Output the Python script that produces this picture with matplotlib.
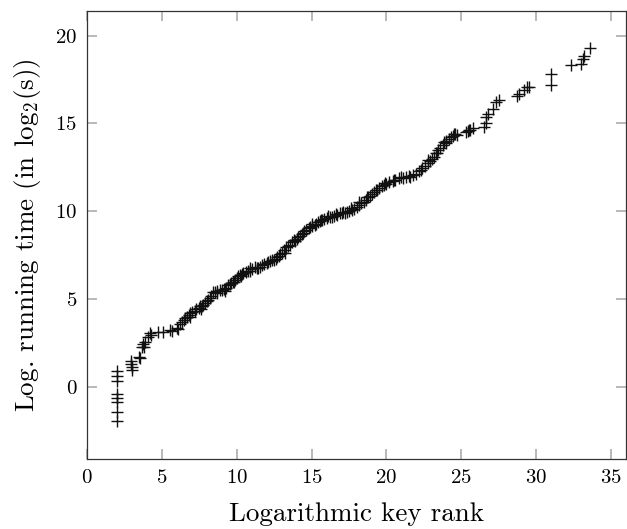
import matplotlib
matplotlib.use("Agg")
import matplotlib.pyplot as plt

plt.rcParams['font.family'] = ['cmr10', 'DejaVu Serif']
plt.rcParams['mathtext.fontset'] = 'cm'
plt.rcParams['axes.formatter.use_mathtext'] = True

key_rank = [
    2.0, 2.0, 2.0, 2.0, 2.0, 2.0, 2.0, 2.0,
    2.95, 2.97, 3.0, 2.98, 3.5, 3.55,
    3.67, 3.75, 3.8, 3.87, 4.09, 4.2, 4.3, 4.75, 5.1, 5.53, 5.7, 5.98,
    6.1, 6.2, 6.33, 6.45, 6.55, 6.65, 6.8, 6.9, 7.0, 7.2, 7.3, 7.45,
    7.55, 7.7, 7.75, 7.9, 8.0, 8.2, 8.31, 8.42, 8.55, 8.65, 8.87, 9.0,
    9.15, 9.31, 9.45, 9.53, 9.65, 9.75, 9.9, 10.0, 10.09, 10.2, 10.35,
    10.42, 10.6, 10.75, 10.87, 11.0, 11.2, 11.35, 11.53, 11.7, 11.85,
    12.0, 12.2, 12.35, 12.5, 12.65, 12.8, 12.9, 13.0, 13.15, 13.31,
    13.45, 13.55, 13.7, 13.85, 14.0, 14.1, 14.2, 14.35, 14.5, 14.65,
    14.8, 14.9, 15.05, 15.2, 15.31, 15.45, 15.55, 15.7, 15.85, 16.0,
    16.2, 16.35, 16.5, 16.7, 16.87, 17.0, 17.2, 17.35, 17.53, 17.7,
    17.85, 18.0, 18.15, 18.3, 18.5, 18.65, 18.8, 18.9, 19.05, 19.2,
    19.35, 19.53, 19.7, 19.85, 20.0, 20.2, 20.42, 20.6, 20.87, 21.1,
    21.31, 21.53, 21.75, 21.98, 22.2, 22.4, 22.55, 22.75, 22.9, 23.05,
    23.2, 23.31, 23.45, 23.55, 23.75, 23.87, 23.98, 24.15, 24.3, 24.42,
    24.53, 24.7, 25.3, 25.42, 25.53, 25.76, 26.53, 26.65, 26.65, 26.75,
    27.09, 27.35, 27.53, 28.75, 28.87, 29.2, 29.4, 29.5, 30.98, 30.98,
    32.3, 32.98, 33.1, 33.2, 33.6,
    # extra overlapping marks in the dense band
    6.9, 7.6, 8.1, 8.7, 9.2, 9.8, 10.3, 10.9, 11.4, 12.1, 12.7, 13.2,
    13.9, 14.4, 15.0, 15.6, 16.1, 16.6, 17.1, 17.6, 18.2, 18.7, 19.3,
    19.9, 20.5, 21.0, 21.6, 22.3, 22.8, 23.4, 24.0, 24.6, 25.6,
]
log_time = [
    0.9, 0.65, 0.35, -0.4, -0.6, -0.85, -1.45, -1.95,
    1.5, 1.3, 1.12, 0.95, 1.7, 1.65,
    2.26, 2.45, 2.3, 2.55, 2.83, 3.05, 2.95, 3.15, 3.15, 3.25, 3.2, 3.34,
    3.3, 3.6, 3.68, 3.8, 3.9, 3.96, 4.1, 4.2, 4.25, 4.34, 4.43, 4.5,
    4.62, 4.6, 4.65, 4.8, 4.9, 5.09, 5.2, 5.38, 5.4, 5.47, 5.5, 5.52,
    5.58, 5.62, 5.8, 5.88, 5.92, 5.98, 6.1, 6.2, 6.3, 6.35, 6.45,
    6.5, 6.55, 6.6, 6.62, 6.7, 6.85, 6.8, 6.85, 6.95, 7.0,
    7.05, 7.15, 7.2, 7.25, 7.3, 7.45, 7.55, 7.65, 7.8, 7.95,
    8.05, 8.1, 8.25, 8.35, 8.45, 8.55, 8.62, 8.7, 8.85, 8.95,
    9.02, 9.08, 9.15, 9.2, 9.28, 9.38, 9.45, 9.5, 9.55, 9.6,
    9.66, 9.7, 9.72, 9.8, 9.88, 9.9, 9.92, 9.95, 10.0, 10.1,
    10.15, 10.22, 10.35, 10.45, 10.55, 10.66, 10.8, 10.85, 11.0, 11.1,
    11.2, 11.35, 11.42, 11.5, 11.55, 11.65, 11.75, 11.8, 11.88, 11.9,
    11.95, 11.98, 12.05, 12.15, 12.28, 12.45, 12.6, 12.73, 12.85, 12.95,
    13.1, 13.3, 13.5, 13.6, 13.8, 13.95, 14.0, 14.1, 14.2, 14.28,
    14.38, 14.35, 14.5, 14.55, 14.62, 14.72, 14.82, 15.0, 15.37, 15.56,
    15.85, 16.22, 16.36, 16.54, 16.7, 16.92, 17.07, 17.1, 17.16, 17.83,
    18.3, 18.4, 18.67, 18.86, 19.3,
    4.0, 4.45, 4.95, 5.35, 5.45, 6.0, 6.3, 6.75, 6.75, 7.1, 7.4, 7.6,
    8.3, 8.75, 9.25, 9.5, 9.75, 9.85, 9.95, 10.2, 10.5, 10.8, 11.2,
    11.6, 11.8, 11.95, 11.95, 12.35, 12.9, 13.3, 13.9, 14.4, 14.6,
]

x_ticks = [0, 5, 10, 15, 20, 25, 30, 35]
y_ticks = [0, 5, 10, 15, 20]

W, H = 627, 529
fig = plt.figure(figsize=(W / 100, H / 100), dpi=100)
ax = fig.add_axes([87 / W, 1 - 459 / H, (626 - 87) / W, (459 - 11) / H])

ax.plot(key_rank, log_time, linestyle='none', color='#111111',
        marker='+', markersize=8, markeredgewidth=1.0)

ax.set_xlim(0, 36)
ax.set_ylim(-4.1, 21.4)
ax.set_xticks(x_ticks)
ax.set_yticks(y_ticks)
ax.tick_params(direction='in', length=7.5, width=1.1, color='#a6a6a6',
               top=True, right=True, labelsize=15, pad=7)
for s in ax.spines.values():
    s.set_color('#333333')
    s.set_linewidth(0.9)

ax.set_xlabel('Logarithmic key rank', fontsize=19.5, labelpad=11)
ax.set_ylabel(r'Log. running time (in $\mathrm{log}_2$(s))', fontsize=19.5, labelpad=9)

fig.savefig('out.png', dpi=100)
